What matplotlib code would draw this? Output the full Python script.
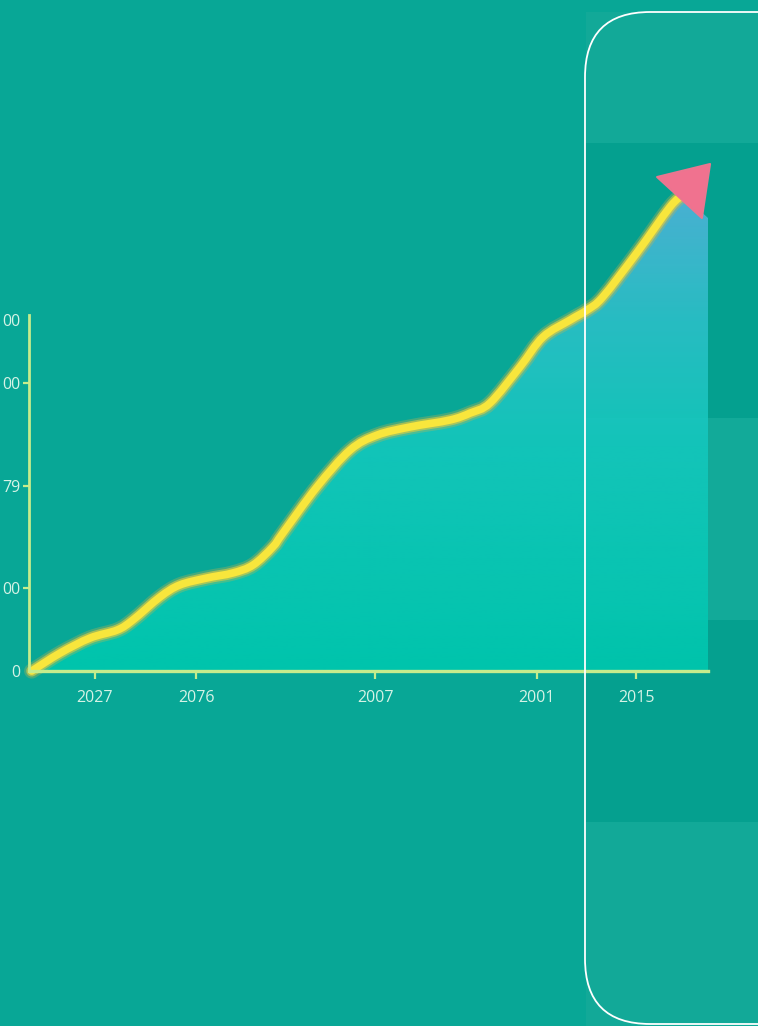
import matplotlib
matplotlib.use("Agg")
import matplotlib.pyplot as plt
import numpy as np
from matplotlib.patches import Polygon, Rectangle, FancyBboxPatch, PathPatch
from matplotlib.path import Path
from matplotlib.colors import LinearSegmentedColormap

# ---------------- data ----------------
x_tick_pos = [9.7, 24.6, 51.0, 74.8, 89.4]
x_tick_labels = ["2027", "2076", "2007", "2001", "2015"]
y_tick_pos = [0, 83, 185, 288, 351]
y_tick_labels = ["0", "00", "79", "00", "00"]

line_x = [0.4, 4.6, 9.0, 13.0, 15.3, 19.3, 22.2, 26.2, 30.0, 33.0, 35.9, 37.4,
          42.4, 47.3, 51.3, 56.1, 62.0, 65.0, 67.9, 72.3, 75.7, 79.7, 82.2,
          84.5, 89.5, 94.4, 96.3]
line_y = [0, 18, 33, 41, 51, 74, 86, 93, 98, 106, 124, 138,
          184, 221, 236, 244, 251, 258, 268, 304, 334, 351, 361,
          374, 418, 464, 476]
fill_end_x = 100.0
fill_end_y = 453

arrow_x = [92.5, 100.3, 99.1]
arrow_y = [494, 507, 453]


def smooth_path(xs, ys, tail=None):
    """Catmull-Rom style Bezier path through the given points."""
    P = np.column_stack([xs, ys]).astype(float)
    verts = [P[0]]
    codes = [Path.MOVETO]
    n = len(P)
    for i in range(n - 1):
        p0 = P[i - 1] if i > 0 else P[i]
        p1, p2 = P[i], P[i + 1]
        p3 = P[i + 2] if i + 2 < n else P[i + 1]
        c1 = p1 + (p2 - p0) / 6.0
        c2 = p2 - (p3 - p1) / 6.0
        verts += [c1, c2, p2]
        codes += [Path.CURVE4] * 3
    if tail is not None:
        for v in tail:
            verts.append(v)
            codes.append(Path.LINETO)
        verts.append(P[0])
        codes.append(Path.CLOSEPOLY)
    return Path(np.array(verts), codes)


# ---------------- figure ----------------
W, H = 758, 1026
fig = plt.figure(figsize=(W / 100, H / 100), dpi=100)
bg = "#08a796"
fig.patch.set_facecolor(bg)

# background axes with right-side bands (pixel coords)
bax = fig.add_axes([0, 0, 1, 1], zorder=0)
bax.set_xlim(0, W)
bax.set_ylim(H, 0)
bax.axis("off")
band_edges = [12, 143, 418, 620, 822, 1026]
band_cols = ["#12a998", "#04a08f", "#12aa99", "#05a08f", "#12a998"]
for i in range(len(band_cols)):
    y0, y1 = band_edges[i], band_edges[i + 1]
    bax.add_patch(Rectangle((586, y0), W - 586, y1 - y0, facecolor=band_cols[i],
                            edgecolor="none"))

ax = fig.add_axes([29 / W, 355 / H, 679 / W, 515 / H], zorder=1)
ax.set_facecolor("none")
ax.set_xlim(0, 100)
ax.set_ylim(0, 515)

lx = np.array(line_x)
ly = np.array(line_y)

# gradient fill under curve
fill_path = smooth_path(lx, ly, tail=[(fill_end_x, fill_end_y), (fill_end_x, 0), (lx[0], 0)])
clip = PathPatch(fill_path, transform=ax.transData, facecolor="none", edgecolor="none")
ax.add_patch(clip)
cmap = LinearSegmentedColormap.from_list(
    "g", [(0.0, "#00c8af"), (0.45, "#14c8bd"), (0.7, "#2cc0c8"), (1.0, "#5ab0de")])
grad = np.linspace(0, 1, 256).reshape(-1, 1)
im = ax.imshow(grad, extent=[0, 100, 0, 500], origin="lower", cmap=cmap,
               aspect="auto", alpha=0.9, zorder=1)
im.set_clip_path(clip)

# glowing line
line_path = smooth_path(lx, ly)
for lw, col, a, z in [(11, "#d4b445", 0.3, 3), (8, "#e6cc3c", 0.6, 3), (5.5, "#f8e63c", 1.0, 4)]:
    ax.add_patch(PathPatch(line_path, facecolor="none", edgecolor=col, lw=lw, alpha=a,
                           capstyle="round", joinstyle="round", zorder=z, clip_on=False))

# arrow head
ax.add_patch(Polygon(np.column_stack([arrow_x, arrow_y]), closed=True,
                     facecolor="#f0728f", edgecolor="#ea7690", lw=1.5,
                     joinstyle="round", zorder=5, clip_on=False))

# axes styling
axis_col = "#c6ec8c"
for s in ["top", "right"]:
    ax.spines[s].set_visible(False)
ax.spines["left"].set_color(axis_col)
ax.spines["left"].set_linewidth(2)
ax.spines["left"].set_bounds(0, 356)
ax.spines["bottom"].set_color(axis_col)
ax.spines["bottom"].set_linewidth(2.4)
ax.spines["left"].set_zorder(6)
ax.spines["bottom"].set_zorder(6)

lab_col = "#d6f3e6"
ax.set_xticks(x_tick_pos)
ax.set_xticklabels(x_tick_labels, fontfamily="Open Sans", fontsize=11.5, color=lab_col)
ax.tick_params(axis="x", direction="out", length=6, width=1.6, color=axis_col, pad=8)
ax.set_yticks(y_tick_pos)
ax.set_yticklabels(y_tick_labels, fontfamily="Open Sans", fontsize=11.5, color=lab_col)
ax.tick_params(axis="y", direction="out", length=4.5, width=1.6, color=axis_col, pad=1.5)
yt = ax.yaxis.get_major_ticks()
yt[0].tick1line.set_visible(False)
yt[-1].tick1line.set_visible(False)

# rounded outline on right
fig.patches.append(FancyBboxPatch((585 / W, 2 / H), 600 / W, 1012 / H,
                                  boxstyle="round,pad=0,rounding_size=0.086",
                                  transform=fig.transFigure, facecolor="none",
                                  edgecolor="white", lw=1.3, zorder=10,
                                  mutation_aspect=W / H))

fig.savefig("out.png", dpi=100, facecolor=bg)
